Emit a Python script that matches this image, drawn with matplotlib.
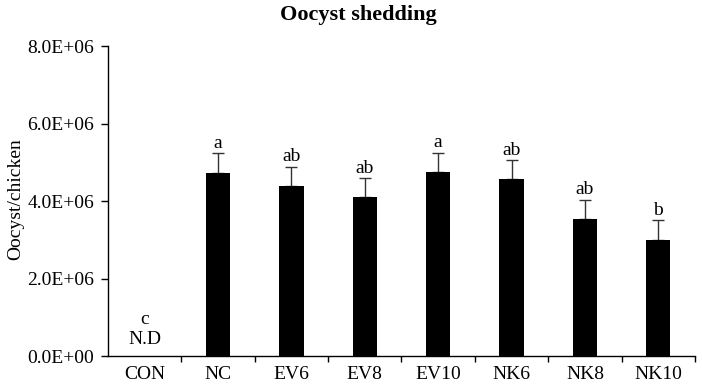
import numpy as np
import matplotlib
matplotlib.use("Agg")
import matplotlib.pyplot as plt
from matplotlib.ticker import FuncFormatter

groups = ['CON', 'NC', 'EV6', 'EV8', 'EV10', 'NK6', 'NK8', 'NK10']
means = [0, 4.73e6, 4.39e6, 4.10e6, 4.74e6, 4.56e6, 3.53e6, 2.99e6]
errors = [0, 0.50e6, 0.50e6, 0.49e6, 0.51e6, 0.50e6, 0.50e6, 0.51e6]
letters = ['c', 'a', 'ab', 'ab', 'a', 'ab', 'ab', 'b']

plt.rcParams['font.family'] = ['Liberation Serif', 'DejaVu Serif']
fs = 14

fig = plt.figure(figsize=(7.02, 3.87), dpi=100)
ax = fig.add_axes([0.1538, 0.0801, 0.8362, 0.8009])

x = np.arange(len(groups))
ax.bar(x[1:], means[1:], width=0.33, color='black', zorder=2)
ax.errorbar(x[1:], means[1:], yerr=[np.zeros(len(x) - 1), errors[1:]],
            fmt='none', ecolor='#333333', elinewidth=1, capsize=4, capthick=1, zorder=1)

for i in range(len(groups)):
    if i == 0:
        ax.text(x[i], 0.42e6, 'N.D', ha='center', va='center', fontsize=fs)
        ax.text(x[i], 0.93e6, letters[i], ha='center', va='center', fontsize=fs)
    else:
        ax.annotate(letters[i], (x[i], means[i] + errors[i]), xytext=(0, 1),
                    textcoords='offset points', ha='center', va='bottom', fontsize=fs)

ax.set_xlim(-0.5, len(groups) - 0.5)
ax.set_ylim(0, 8e6)
ax.set_yticks(np.arange(0, 8.1e6, 2e6))
ax.yaxis.set_major_formatter(FuncFormatter(lambda v, p: f'{v / 1e6:.1f}E+06' if v else '0.0E+00'))
ax.set_xticks(x)
ax.set_xticklabels(groups, fontsize=fs)
ax.set_xticks(np.arange(0.5, len(groups)), minor=True)
ax.tick_params(axis='x', which='major', length=0, pad=7)
ax.tick_params(axis='x', which='minor', length=4, width=1, direction='out')
ax.tick_params(axis='y', length=5, width=1, direction='out', labelsize=fs, pad=5)

for s in ['top', 'right']:
    ax.spines[s].set_visible(False)
ax.spines['left'].set_linewidth(1)
ax.spines['bottom'].set_linewidth(1)

fig.text(0.022, 0.485, 'Oocyst/chicken', ha='center', va='center',
         rotation=90, fontsize=fs)
fig.text(0.51, 0.96, 'Oocyst shedding', ha='center', va='center',
         fontsize=16, fontweight='bold')

fig.savefig('out.png', dpi=100)
